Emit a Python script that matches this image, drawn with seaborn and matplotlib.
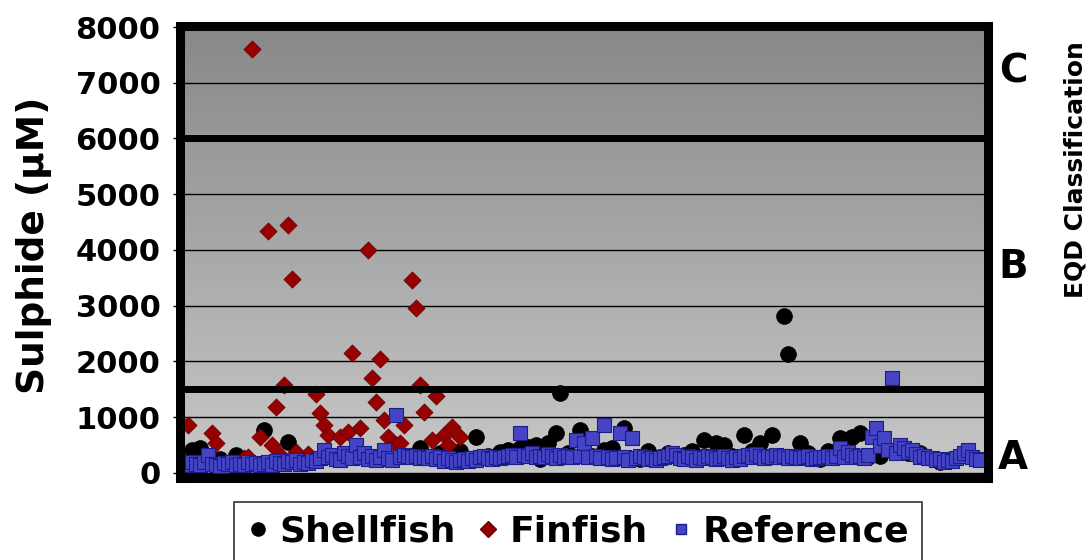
import numpy as np
import pandas as pd
import matplotlib
matplotlib.use('Agg')
import matplotlib.pyplot as plt
import seaborn as sns
from matplotlib.lines import Line2D
from matplotlib.colors import LinearSegmentedColormap
from matplotlib.transforms import blended_transform_factory

# sample index along the x axis and sulphide (uM)
shell_x = [3, 5, 10, 14, 21, 27, 30, 50, 56, 60, 65, 70, 74, 77, 80, 82, 85, 87, 89, 90,
           92, 94, 95, 97, 100, 103, 106, 108, 111, 115, 117, 120, 122, 126, 128, 131, 134, 136, 138, 141,
           143, 145, 148, 151, 152, 155, 157, 160, 162, 165, 168, 170, 172, 175, 182, 185, 190, 193]
shell_y = [410, 450, 250, 320, 770, 550, 200, 250, 300, 450, 360, 400, 640, 300, 380, 410, 450, 460, 500, 250,
           540, 710, 1430, 360, 770, 300, 410, 450, 800, 250, 400, 280, 350, 320, 400, 590, 540, 500, 300, 680,
           400, 540, 680, 2820, 2130, 540, 360, 250, 400, 620, 640, 710, 290, 300, 350, 360, 200, 250]

fin_x = [2, 8, 9, 16, 17, 18, 20, 22, 23, 24, 25, 26, 27, 28, 29, 32, 34, 35, 36, 37,
         40, 42, 43, 45, 47, 48, 49, 50, 51, 52, 54, 55, 56, 58, 59, 60, 61, 63, 64, 66,
         67, 68, 70]
fin_y = [860, 710, 540, 270, 290, 7600, 640, 4340, 500, 1180, 320, 1570, 4450, 3480, 375, 340, 1410, 1070, 860, 680,
         640, 730, 2160, 800, 4000, 1710, 1270, 2040, 950, 640, 500, 540, 860, 3460, 2960, 1570, 1090, 590, 1380, 680,
         500, 820, 640]

ref_y = [180, 150, 200, 160, 140, 190, 320, 170, 150, 130, 180, 160, 200, 150, 170, 140, 190, 160, 180, 150,
         170, 200, 150, 220, 180, 160, 210, 190, 230, 170, 200, 180, 240, 220, 260, 410, 280, 320, 250, 230,
         360, 300, 270, 500, 280, 360, 250, 300, 230, 280, 410, 260, 240, 1040, 290, 330, 310, 280, 300, 260,
         290, 270, 300, 250, 280, 220, 260, 240, 200, 230, 250, 210, 260, 240, 280, 300, 270, 250, 290, 260,
         280, 300, 320, 290, 710, 330, 300, 350, 280, 310, 290, 340, 300, 270, 320, 280, 310, 290, 590, 300,
         540, 280, 630, 300, 260, 860, 290, 250, 270, 710, 280, 240, 630, 260, 300, 280, 250, 270, 230, 260,
         280, 300, 360, 320, 270, 250, 300, 280, 240, 290, 260, 310, 280, 250, 270, 300, 260, 240, 280, 250,
         300, 320, 280, 340, 300, 260, 310, 290, 330, 280, 300, 270, 310, 290, 260, 280, 300, 250, 270, 290,
         280, 310, 260, 300, 450, 290, 375, 320, 280, 300, 270, 330, 640, 800, 480, 630, 420, 1710, 350, 500,
         450, 380, 410, 340, 290, 310, 260, 270, 230, 250, 200, 240, 220, 260, 300, 360, 410, 290, 250, 230]
ref_x = list(range(1, len(ref_y) + 1))

y_ticks = [0, 1000, 2000, 3000, 4000, 5000, 6000, 7000, 8000]
class_limits = [1500, 6000]
class_labels = ['A', 'B', 'C']
class_label_y = [270, 3700, 7200]

sns.set_style('white')
plt.rcParams['font.family'] = ['DejaVu Sans']
plt.rcParams['font.weight'] = 'bold'
plt.rcParams['text.color'] = 'black'
plt.rcParams['axes.labelcolor'] = 'black'
plt.rcParams['ytick.color'] = 'black'

fig = plt.figure(figsize=(10.91, 5.60), dpi=100)
ax = fig.add_axes([180 / 1091, 1 - 478 / 560, 808 / 1091, 452 / 560])

# grey gradient background of the plot area
grad = np.linspace(0, 1, 256).reshape(-1, 1)
bg_cmap = LinearSegmentedColormap.from_list('bg', ['#c9c9c9', '#888888'])
ax.imshow(grad, extent=(0, 1, 0, 1), transform=ax.transAxes, cmap=bg_cmap,
          aspect='auto', origin='lower', zorder=0)

shell_df = pd.DataFrame({'sample': shell_x, 'sulphide': shell_y})
fin_df = pd.DataFrame({'sample': fin_x, 'sulphide': fin_y})
ref_df = pd.DataFrame({'sample': ref_x, 'sulphide': ref_y})

sns.scatterplot(data=shell_df, x='sample', y='sulphide', ax=ax, marker='o', s=130,
                color='black', edgecolor='black', linewidth=0.5, zorder=2, legend=False)
sns.scatterplot(data=fin_df, x='sample', y='sulphide', ax=ax, marker='D', s=75,
                color='#960000', edgecolor='#6a0000', linewidth=0.6, zorder=3, legend=False)
sns.scatterplot(data=ref_df, x='sample', y='sulphide', ax=ax, marker='s', s=95,
                color='#4444c4', edgecolor='#1c1c8c', linewidth=0.8, zorder=3.5, legend=False)

for v in class_limits:
    ax.axhline(v, color='black', lw=5, zorder=4)

ax.set_xlim(0, 202)
ax.set_ylim(-90, 8018)
ax.set_yticks(y_ticks)
ax.set_xticks([])
ax.grid(axis='y', color='black', lw=1.0)
ax.set_axisbelow(True)
ax.tick_params(axis='y', left=True, length=5, width=1, direction='out', pad=9,
               labelsize=22, colors='black')
for sp in ax.spines.values():
    sp.set_linewidth(6.5)
    sp.set_color('black')
    sp.set_zorder(6)

ax.set_xlabel('')
ax.set_ylabel('Sulphide (μM)', fontsize=27, fontweight='bold', color='black')
ax.yaxis.set_label_coords(-0.158, 0.515)

trans = blended_transform_factory(ax.transAxes, ax.transData)
for lab, yv in zip(class_labels, class_label_y):
    ax.text(1.031, yv, lab, transform=trans, ha='center', va='center',
            fontsize=28, fontweight='bold', color='black')
fig.text(1075 / 1091, 1 - 170 / 560, 'EQD Classification', rotation=90,
         ha='center', va='center', fontsize=18, fontweight='bold', color='black')

handles = [
    Line2D([], [], ls='none', marker='o', ms=9.5, color='black'),
    Line2D([], [], ls='none', marker='D', ms=8, color='#960000', mec='#6a0000'),
    Line2D([], [], ls='none', marker='s', ms=7, color='#4444c4', mec='#1c1c8c'),
]
leg = fig.legend(handles, ['Shellfish', 'Finfish', 'Reference'], loc='upper center',
                 bbox_to_anchor=(578 / 1091, 1 - 502 / 560), ncol=3, frameon=True,
                 fancybox=False, edgecolor='black', prop={'size': 26, 'weight': 'bold'},
                 handlelength=0.6, handletextpad=0.3, columnspacing=0.6,
                 borderpad=0.35, borderaxespad=0)
leg.get_frame().set_linewidth(1.2)
for t in leg.get_texts():
    t.set_color('black')

fig.savefig('out.png', dpi=100)
